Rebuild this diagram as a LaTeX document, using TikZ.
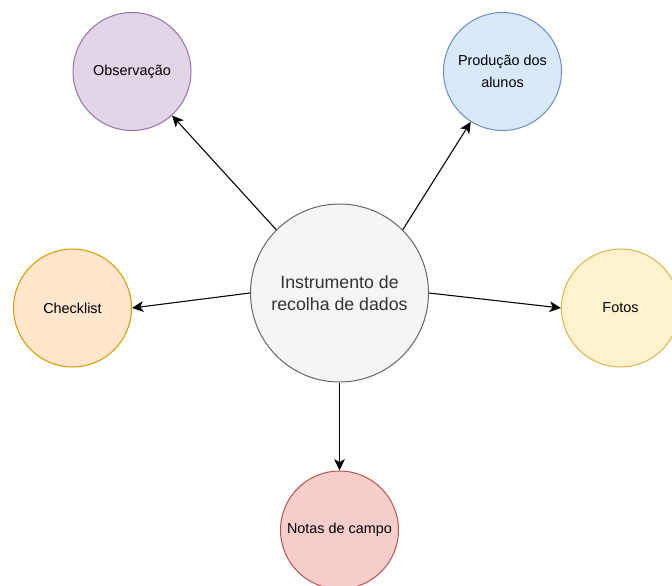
\documentclass[tikz,border=0pt]{standalone}
\usepackage{fontspec}
\setmainfont{Liberation Sans}
\usepackage{xcolor}
\usetikzlibrary{arrows.meta,positioning}

\definecolor{hubfill}{HTML}{F5F5F5}
\definecolor{hubline}{HTML}{666666}
\definecolor{hubtext}{HTML}{333333}
\definecolor{purplefill}{HTML}{E1D5E7}
\definecolor{purpleline}{HTML}{9673A6}
\definecolor{bluefill}{HTML}{DAE8FC}
\definecolor{blueline}{HTML}{6C8EBF}
\definecolor{orangefill}{HTML}{FFE6CC}
\definecolor{orangeline}{HTML}{D79B00}
\definecolor{yellowfill}{HTML}{FFF2CC}
\definecolor{yellowline}{HTML}{D6B656}
\definecolor{redfill}{HTML}{F8CECC}
\definecolor{redline}{HTML}{B85450}

\begin{document}
\begin{tikzpicture}[
  x=0.75pt, y=-0.75pt,
  bubble/.style={
    draw,
    circle,
    inner sep=0pt,
    align=center,
    minimum size=88.5pt,
    line width=0.75pt,
    font=\fontsize{10.8}{16.3}\selectfont
  },
  hub/.style={
    bubble,
    minimum size=133.5pt,
    fill=hubfill,
    draw=hubline,
    text=hubtext,
    font=\fontsize{13.3}{16.7}\selectfont
  },
  arrow/.style={-{Stealth[length=8.5pt, width=8pt, inset=2.2pt]}, line width=0.8pt}
]
  \useasboundingbox (0,0) rectangle (672,586);

  \node[hub] (tool) at (339.5,293) {Instrumento de\\recolha de dados};

  \node[bubble, fill=purplefill, draw=purpleline] (obs) at (132,71.5) {Observação};
  \node[bubble, fill=bluefill, draw=blueline] (prod) at (502.5,71.5) {Produção dos\\alunos};
  \node[bubble, fill=orangefill, draw=orangeline] (check) at (72.5,308) {Checklist};
  \node[bubble, fill=yellowfill, draw=yellowline] (photos) at (620.5,308) {Fotos};
  \node[bubble, fill=redfill, draw=redline] (notes) at (339.5,530) {Notas de campo};

  \draw[arrow] (tool.north west) -- (obs);
  \draw[arrow] (tool.north east) -- (prod);
  \draw[arrow] (tool.west) -- (check.east);
  \draw[arrow] (tool.east) -- (photos.west);
  \draw[arrow] (tool.south) -- (notes.north);
\end{tikzpicture}
\end{document}
